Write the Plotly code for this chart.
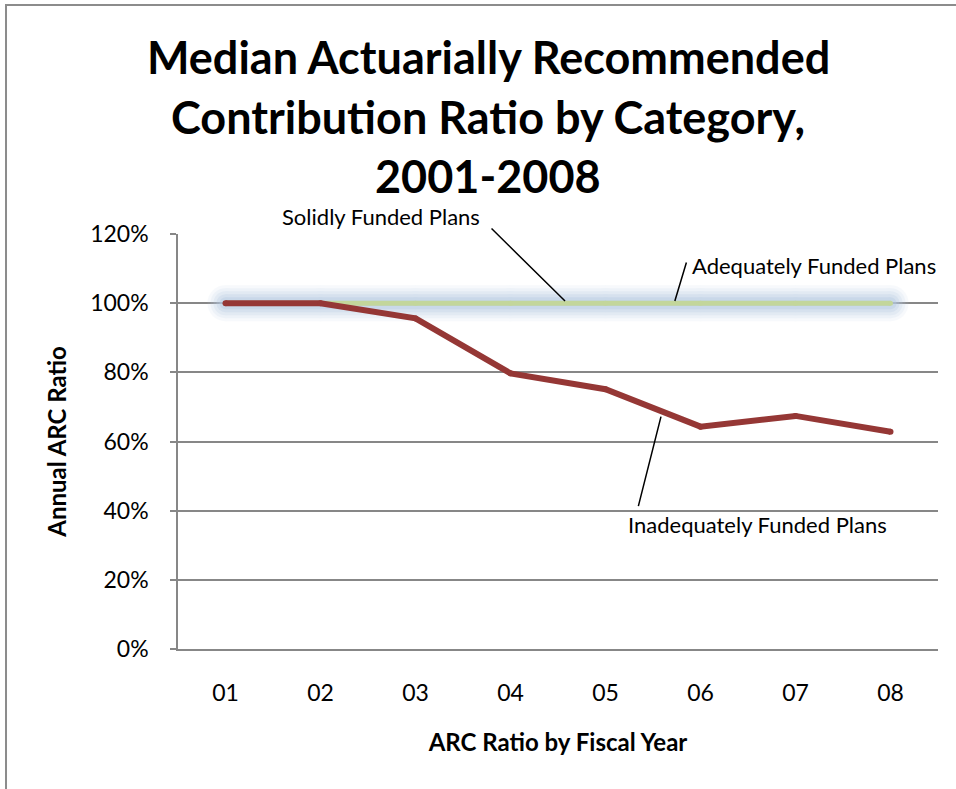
import plotly.graph_objects as go

# Fiscal years and median ARC ratios (%) by funding category
years = ["01", "02", "03", "04", "05", "06", "07", "08"]
solidly = [100, 100, 100, 100, 100, 100, 100, 100]
adequately = [100, 100, 100, 100, 100, 100, 100, 100]
inadequately = [100, 100, 95.6, 79.7, 75.1, 64.3, 67.4, 62.8]

y_ticks = [0, 20, 40, 60, 80, 100, 120]
y_tick_text = [f"{v}%" for v in y_ticks]

FONT = "Lato"
GRID = "#878787"

fig = go.Figure()

# soft blue glow behind the solidly funded series (round ends via markers)
for w, op in [(36, 0.10), (30, 0.14), (24, 0.20), (18, 0.28), (12, 0.40)]:
    fig.add_trace(go.Scatter(
        x=years, y=solidly, mode="lines+markers", showlegend=False, hoverinfo="skip",
        line=dict(color="#b8cce4", width=w),
        marker=dict(color="#b8cce4", size=w, line=dict(width=0)),
        opacity=op,
    ))
fig.add_trace(go.Scatter(
    x=years, y=solidly, mode="lines", name="Solidly Funded Plans",
    line=dict(color="#b9cde5", width=5),
))
fig.add_trace(go.Scatter(
    x=years, y=adequately, mode="lines+markers", name="Adequately Funded Plans",
    line=dict(color="#c3d69b", width=5),
    marker=dict(color="#c3d69b", size=5, line=dict(width=0)),
))
fig.add_trace(go.Scatter(
    x=years, y=inadequately, mode="lines+markers", name="Inadequately Funded Plans",
    line=dict(color="#953735", width=6),
    marker=dict(color="#953735", size=6, line=dict(width=0)),
))

# leader lines from each label to its series (x in category-index units)
leaders = [
    dict(x=3.574, y=100.6, ax=-75, ay=-74),
    dict(x=4.73, y=100.6, ax=12, ay=-40),
    dict(x=4.584, y=67.2, ax=-23, ay=91),
]
for ld in leaders:
    fig.add_annotation(
        x=ld["x"], y=ld["y"], ax=ld["ax"], ay=ld["ay"],
        text="", showarrow=True, arrowhead=0, arrowwidth=1.5, arrowcolor="black",
    )

label_font = dict(family=FONT, size=22, color="black")
fig.add_annotation(xref="paper", yref="paper", x=0.267, y=1.043, text="Solidly Funded Plans",
                   showarrow=False, xanchor="center", yanchor="middle", font=label_font)
fig.add_annotation(xref="paper", yref="paper", x=0.6737, y=0.923, text="Adequately Funded Plans",
                   showarrow=False, xanchor="left", yanchor="middle", font=label_font)
fig.add_annotation(xref="paper", yref="paper", x=0.7625, y=0.301, text="Inadequately Funded Plans",
                   showarrow=False, xanchor="center", yanchor="middle", font=label_font)

# three-line bold title
title_lines = ["Median Actuarially Recommended", "Contribution Ratio by Category,", "2001-2008"]
for line, yp in zip(title_lines, [1.4265, 1.2819, 1.1398]):
    fig.add_annotation(xref="paper", yref="paper", x=0.408, y=yp, text=f"<b>{line}</b>",
                       showarrow=False, xanchor="center", yanchor="middle",
                       font=dict(family=FONT, size=45, color="black"))

# outer chart border (top and left edges visible)
fig.add_shape(type="rect", xref="paper", yref="paper",
              x0=-0.2263, x1=1.2, y0=-0.5, y1=1.5518,
              line=dict(color="#8c8c8c", width=2))

fig.update_layout(
    width=956, height=789,
    margin=dict(l=178, r=18, t=234, b=140),
    paper_bgcolor="white", plot_bgcolor="white",
    showlegend=False,
    font=dict(family=FONT, color="black"),
    xaxis=dict(
        type="category", range=[-0.5, 7.5],
        showgrid=False, showline=True, linecolor=GRID, linewidth=1.5,
        ticks="", tickfont=dict(size=23), ticklabelstandoff=23,
        title=dict(text="<b>ARC Ratio by Fiscal Year</b>", font=dict(size=24), standoff=29),
    ),
    yaxis=dict(
        range=[0, 120], tickvals=y_ticks, ticktext=y_tick_text,
        showgrid=True, gridcolor=GRID, gridwidth=1.5,
        showline=True, linecolor=GRID, linewidth=1.5,
        ticks="outside", ticklen=6, tickcolor=GRID, tickwidth=1.5,
        tickfont=dict(size=23), ticklabelstandoff=17, zeroline=False,
        title=dict(text="<b>Annual ARC Ratio</b>", font=dict(size=24), standoff=17),
    ),
)

fig.write_html("out.html")
